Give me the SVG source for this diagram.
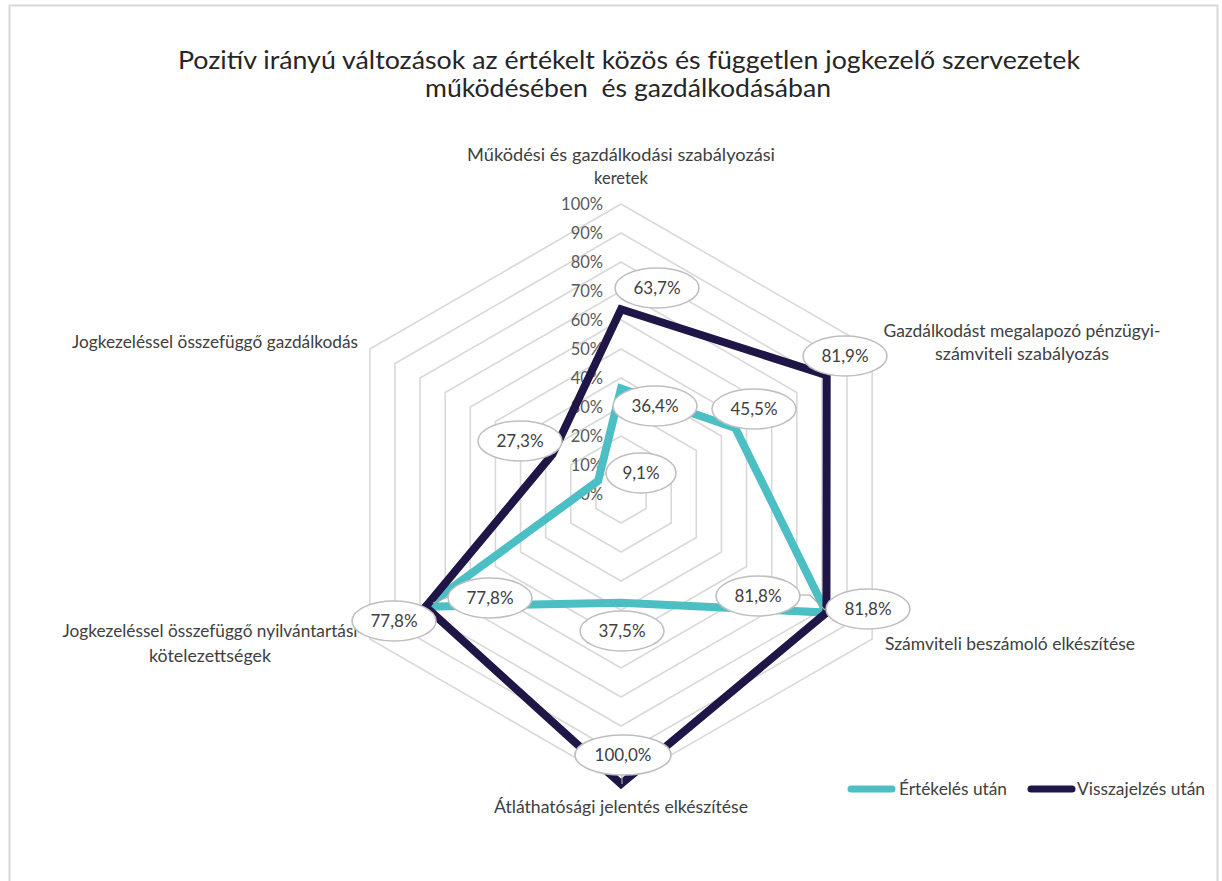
<svg xmlns="http://www.w3.org/2000/svg" width="1222" height="881" viewBox="0 0 1222 881">
<style>
text{font-family:Lato,"Liberation Sans",Arial,sans-serif;}
.title{font-size:25px;fill:#262626;text-anchor:middle;}
.cat{font-size:16.5px;fill:#404040;}
.tick{font-size:16.5px;fill:#595959;text-anchor:end;}
.dl{font-size:17px;fill:#404040;text-anchor:middle;}
.leg{font-size:17px;fill:#404040;}
.grid{fill:none;stroke:#D9D9D9;stroke-width:1.6;}
.bub{fill:#FFFFFF;stroke:#BFBFBF;stroke-width:1.6;}
.lead{fill:none;stroke:#A6A6A6;stroke-width:1.2;}
.s1{fill:none;stroke:#4BBFC3;stroke-width:8;stroke-linejoin:miter;stroke-miterlimit:10;}
.s2{fill:none;stroke:#1F1546;stroke-width:8;stroke-linejoin:miter;stroke-miterlimit:10;}
</style>
<rect x="0" y="0" width="1222" height="881" fill="#FFFFFF"/>
<rect x="9.5" y="5.5" width="1208" height="900" fill="#FFFFFF" stroke="#D9D9D9" stroke-width="2"/>

<g id="title">
<text class="title" x="629" y="69" textLength="902" lengthAdjust="spacingAndGlyphs">Pozitív irányú változások az értékelt közös és független jogkezelő szervezetek</text>
<text class="title" x="628" y="97" textLength="406" lengthAdjust="spacingAndGlyphs" style="white-space:pre">működésében  és gazdálkodásában</text>
</g>

<g id="grid">
<polygon class="grid" points="621,465 646.11,479.5 646.11,508.5 621,523 595.89,508.5 595.89,479.5"/>
<polygon class="grid" points="621,436 671.23,465 671.23,523 621,552 570.77,523 570.77,465"/>
<polygon class="grid" points="621,407 696.34,450.5 696.34,537.5 621,581 545.66,537.5 545.66,450.5"/>
<polygon class="grid" points="621,378 721.46,436 721.46,552 621,610 520.54,552 520.54,436"/>
<polygon class="grid" points="621,349 746.57,421.5 746.57,566.5 621,639 495.43,566.5 495.43,421.5"/>
<polygon class="grid" points="621,320 771.69,407 771.69,581 621,668 470.31,581 470.31,407"/>
<polygon class="grid" points="621,291 796.8,392.5 796.8,595.5 621,697 445.2,595.5 445.2,392.5"/>
<polygon class="grid" points="621,262 821.92,378 821.92,610 621,726 420.08,610 420.08,378"/>
<polygon class="grid" points="621,233 847.03,363.5 847.03,624.5 621,755 394.97,624.5 394.97,363.5"/>
<polygon class="grid" points="621,204 872.15,349 872.15,639 621,784 369.85,639 369.85,349"/>
</g>

<g id="axis-ticks">
<text class="tick" x="603" y="210">100%</text>
<text class="tick" x="603" y="239">90%</text>
<text class="tick" x="603" y="268">80%</text>
<text class="tick" x="603" y="297">70%</text>
<text class="tick" x="603" y="326">60%</text>
<text class="tick" x="603" y="355">50%</text>
<text class="tick" x="603" y="384">40%</text>
<text class="tick" x="603" y="413">30%</text>
<text class="tick" x="603" y="442">20%</text>
<text class="tick" x="603" y="471">10%</text>
<text class="tick" x="603" y="500">0%</text>
</g>

<g id="categories">
<text class="cat" x="621" y="161" text-anchor="middle" textLength="308" lengthAdjust="spacingAndGlyphs">Működési és gazdálkodási szabályozási</text>
<text class="cat" x="621" y="184" text-anchor="middle">keretek</text>
<text class="cat" x="1022" y="337" text-anchor="middle" textLength="277" lengthAdjust="spacingAndGlyphs">Gazdálkodást megalapozó pénzügyi-</text>
<text class="cat" x="1022" y="360" text-anchor="middle" textLength="174" lengthAdjust="spacingAndGlyphs">számviteli szabályozás</text>
<text class="cat" x="885" y="650" textLength="250" lengthAdjust="spacingAndGlyphs">Számviteli beszámoló elkészítése</text>
<text class="cat" x="621" y="813" text-anchor="middle" textLength="254" lengthAdjust="spacingAndGlyphs">Átláthatósági jelentés elkészítése</text>
<text class="cat" x="210" y="637" text-anchor="middle" textLength="295" lengthAdjust="spacingAndGlyphs">Jogkezeléssel összefüggő nyilvántartási</text>
<text class="cat" x="210" y="662" text-anchor="middle" textLength="122" lengthAdjust="spacingAndGlyphs">kötelezettségek</text>
<text class="cat" x="215" y="348" text-anchor="middle" textLength="286" lengthAdjust="spacingAndGlyphs">Jogkezeléssel összefüggő gazdálkodás</text>
</g>

<g id="connectors">
<polygon id="series-ertekeles" class="s1" points="621,388.44 735.27,428.02 826.44,612.61 621,602.75 425.61,606.81 598.15,480.8"/>
<polygon id="series-visszajelzes" class="s2" points="621,309.27 826.69,375.24 826.44,612.61 621,784 425.61,606.81 552.44,454.41"/>
<polyline class="lead" points="800,595 810,595 825,610"/>
<polyline class="lead" points="448,597 433,603"/>
<line class="lead" x1="622" y1="772" x2="622" y2="784"/>
</g>

<g id="label-63-7"><ellipse class="bub" cx="657" cy="288" rx="42" ry="20"/><text class="dl" x="657" y="294">63,7%</text></g>
<g id="label-36-4"><ellipse class="bub" cx="655" cy="406" rx="42" ry="20"/><text class="dl" x="655" y="412">36,4%</text></g>
<g id="label-45-5"><ellipse class="bub" cx="754" cy="409" rx="42" ry="20"/><text class="dl" x="754" y="415">45,5%</text></g>
<g id="label-9-1"><ellipse class="bub" cx="641" cy="473" rx="35" ry="20"/><text class="dl" x="641" y="479">9,1%</text></g>
<g id="label-81-9"><ellipse class="bub" cx="845" cy="356" rx="42" ry="20"/><text class="dl" x="845" y="362">81,9%</text></g>
<g id="label-81-8-a"><ellipse class="bub" cx="758" cy="596" rx="42" ry="20"/><text class="dl" x="758" y="602">81,8%</text></g>
<g id="label-81-8-b"><ellipse class="bub" cx="868" cy="609" rx="42" ry="20"/><text class="dl" x="868" y="615">81,8%</text></g>
<g id="label-37-5"><ellipse class="bub" cx="622" cy="631" rx="42" ry="20"/><text class="dl" x="622" y="637">37,5%</text></g>
<g id="label-77-8-a"><ellipse class="bub" cx="490" cy="598" rx="42" ry="20"/><text class="dl" x="490" y="604">77,8%</text></g>
<g id="label-77-8-b"><ellipse class="bub" cx="394" cy="621" rx="42" ry="20"/><text class="dl" x="394" y="627">77,8%</text></g>
<g id="label-27-3"><ellipse class="bub" cx="520" cy="441" rx="42" ry="20"/><text class="dl" x="520" y="447">27,3%</text></g>
<g id="label-100-0"><ellipse class="bub" cx="623" cy="755" rx="48" ry="20"/><text class="dl" x="623" y="761">100,0%</text></g>

<g id="legend">
<line x1="851" y1="789" x2="892" y2="789" stroke="#4BBFC3" stroke-width="7" stroke-linecap="round"/>
<text class="leg" x="899" y="795" textLength="108" lengthAdjust="spacingAndGlyphs">Értékelés után</text>
<line x1="1031" y1="789" x2="1072" y2="789" stroke="#1F1546" stroke-width="7" stroke-linecap="round"/>
<text class="leg" x="1077" y="795" textLength="128" lengthAdjust="spacingAndGlyphs">Visszajelzés után</text>
</g>
</svg>
